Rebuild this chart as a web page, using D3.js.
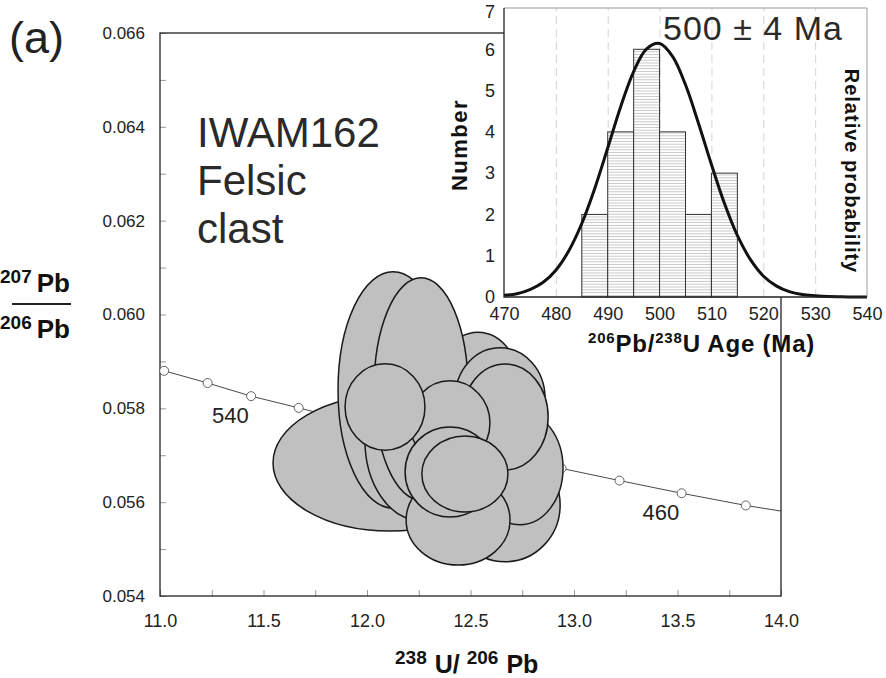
<!DOCTYPE html>
<html>
<head>
<meta charset="utf-8">
<script src="https://cdn.jsdelivr.net/npm/d3@7"></script>
<style>
  body { margin: 0; background: #fff; }
  text { font-family: "Liberation Sans", Arial, sans-serif; }
</style>
</head>
<body>
<div id="chart"></div>
<script>
// --------------------------------------
//  Data
// --------------------------------------

// concordia points (age in Ma, 238U/206Pb, 207Pb/206Pb)
const concAges = [560, 550, 540, 530, 520, 510, 500, 490, 480, 470, 460, 450];
const concU = [11.02, 11.23, 11.44, 11.67, 11.90, 12.14, 12.39, 12.66, 12.94, 13.22, 13.52, 13.83];
const concPb = [0.05880, 0.05854, 0.05826, 0.05801, 0.05775, 0.05748, 0.05722, 0.05697, 0.05672, 0.05646, 0.05619, 0.05593];
const concEndU = [11.0, 14.0];
const concEndPb = [0.05882, 0.05581];
const concLabels = [{ age: 540, u: 11.34, pb: 0.05769 }, { age: 460, u: 13.42, pb: 0.05562 }];

// error ellipses, back to front
const ellU = [12.111, 12.126, 12.256, 12.536, 12.261, 12.643, 12.667, 12.739, 12.667, 12.440, 12.401, 12.087, 12.401, 12.473];
const ellPb = [0.056835, 0.058391, 0.057325, 0.058284, 0.058412, 0.058220, 0.055940, 0.056728, 0.057815, 0.055620, 0.057687, 0.058028, 0.056643, 0.056600];
const ellRu = [0.565, 0.266, 0.266, 0.217, 0.227, 0.217, 0.266, 0.208, 0.208, 0.251, 0.193, 0.193, 0.217, 0.208];
const ellRpb = [0.00145, 0.00252, 0.00171, 0.00134, 0.00237, 0.00107, 0.00121, 0.00121, 0.00113, 0.00096, 0.00090, 0.00092, 0.00096, 0.00081];

// histogram of 206Pb/238U ages
const binStart = [485, 490, 495, 500, 505, 510];
const binCount = [2, 4, 6, 4, 2, 3];
const binWidth = 5;

// relative probability curve
const curveAge = [470, 472.5, 475, 477.5, 480, 482.5, 485, 487.5, 490, 492.5, 495, 497.5, 500,
  502.5, 505, 507.5, 510, 512.5, 515, 517.5, 520, 522.5, 525, 527.5, 530, 532.5, 535, 537.5, 540];
const curveVal = [0.04, 0.08, 0.18, 0.35, 0.65, 1.12, 1.78, 2.63, 3.61, 4.61, 5.46, 6.01, 6.14,
  5.83, 5.14, 4.21, 3.21, 2.27, 1.49, 0.91, 0.51, 0.27, 0.13, 0.06, 0.03, 0.01, 0.004, 0.001, 0];

const xTicks = [11.0, 11.5, 12.0, 12.5, 13.0, 13.5, 14.0];
const yTicks = [0.054, 0.056, 0.058, 0.060, 0.062, 0.064, 0.066];
const histXTicks = [470, 480, 490, 500, 510, 520, 530, 540];
const histYTicks = [0, 1, 2, 3, 4, 5, 6, 7];

// --------------------------------------
//  Canvas
// --------------------------------------

const width = 886;
const height = 678;

const svg = d3
  .select("#chart")
  .append("svg")
  .attr("width", width)
  .attr("height", height)
  .attr("viewBox", [0, 0, width, height]);

// main plot box
const plot = { left: 160, right: 781, top: 33, bottom: 596 };

const x = d3.scaleLinear([11, 14], [plot.left, plot.right]);
const y = d3.scaleLinear([0.054, 0.066], [plot.bottom, plot.top]);

// --------------------------------------
//  Main axes
// --------------------------------------

const minorX = d3.range(11, 14.001, 0.25);
const minorY = d3.range(0.054, 0.06601, 0.001);

svg.append("g")
  .attr("transform", `translate(0,${plot.bottom})`)
  .call(d3.axisBottom(x).tickValues(minorX).tickSize(-6).tickFormat(""))
  .call(g => g.select(".domain").remove())
  .call(g => g.selectAll("line").attr("stroke", "#999"));

svg.append("g")
  .attr("transform", `translate(${plot.left},0)`)
  .call(d3.axisLeft(y).tickValues(minorY).tickSize(-6).tickFormat(""))
  .call(g => g.select(".domain").remove())
  .call(g => g.selectAll("line").attr("stroke", "#999"));

svg.append("g")
  .attr("transform", `translate(0,${plot.bottom})`)
  .call(d3.axisBottom(x).tickValues(xTicks).tickSize(0).tickPadding(18).tickFormat(d3.format(".1f")))
  .call(g => g.select(".domain").remove())
  .call(g => g.selectAll("text")
    .attr("font-size", 18)
    .attr("fill", "#222")
    .attr("font-family", "Liberation Sans, Arial, sans-serif"));

svg.append("g")
  .attr("transform", `translate(${plot.left},0)`)
  .call(d3.axisLeft(y).tickValues(yTicks).tickSize(0).tickPadding(15).tickFormat(d3.format(".3f")))
  .call(g => g.select(".domain").remove())
  .call(g => g.selectAll("text")
    .attr("font-size", 17)
    .attr("fill", "#222")
    .attr("font-family", "Liberation Sans, Arial, sans-serif"));

svg.append("rect")
  .attr("x", plot.left)
  .attr("y", plot.top)
  .attr("width", plot.right - plot.left)
  .attr("height", plot.bottom - plot.top)
  .attr("fill", "none")
  .attr("stroke", "#222")
  .attr("stroke-width", 1.3);

// --------------------------------------
//  Concordia
// --------------------------------------

const concPts = concU.map((u, i) => [u, concPb[i]]);
const concLine = [[concEndU[0], concEndPb[0]], ...concPts, [concEndU[1], concEndPb[1]]];

svg.append("path")
  .datum(concLine)
  .attr("d", d3.line().x(d => x(d[0])).y(d => y(d[1])))
  .attr("fill", "none")
  .attr("stroke", "#333")
  .attr("stroke-width", 0.9);

svg.selectAll("circle.conc")
  .data(concPts)
  .join("circle")
  .attr("class", "conc")
  .attr("cx", d => x(d[0]))
  .attr("cy", d => y(d[1]))
  .attr("r", 4.5)
  .attr("fill", "#fff")
  .attr("stroke", "#555")
  .attr("stroke-width", 0.9);

svg.selectAll("text.conclabel")
  .data(concLabels)
  .join("text")
  .attr("class", "conclabel")
  .attr("x", d => x(d.u))
  .attr("y", d => y(d.pb))
  .attr("text-anchor", "middle")
  .attr("font-size", 22)
  .attr("fill", "#222")
  .text(d => d.age);

// --------------------------------------
//  Error ellipses
// --------------------------------------

const ellipses = ellU.map((u, i) => ({ u, pb: ellPb[i], ru: ellRu[i], rpb: ellRpb[i] }));

svg.selectAll("ellipse.err")
  .data(ellipses)
  .join("ellipse")
  .attr("class", "err")
  .attr("cx", d => x(d.u))
  .attr("cy", d => y(d.pb))
  .attr("rx", d => x(d.u + d.ru) - x(d.u))
  .attr("ry", d => y(d.pb) - y(d.pb + d.rpb))
  .attr("fill", "#c0c0c0")
  .attr("stroke", "#1a1a1a")
  .attr("stroke-width", 1.5);

// --------------------------------------
//  Labels
// --------------------------------------

svg.append("text")
  .attr("x", 9)
  .attr("y", 53)
  .attr("font-size", 45)
  .attr("fill", "#222")
  .text("(a)");

svg.selectAll("text.sample")
  .data(["IWAM162", "Felsic", "clast"])
  .join("text")
  .attr("class", "sample")
  .attr("x", 197)
  .attr("y", (d, i) => 147 + i * 48)
  .attr("font-size", 42)
  .attr("fill", "#2a2a2a")
  .text(d => d);

// x title: 238U/ 206Pb
const xt = svg.append("text")
  .attr("x", 395)
  .attr("y", 673)
  .attr("font-weight", "bold")
  .attr("font-size", 25)
  .attr("fill", "#111");
xt.append("tspan").attr("font-size", 19).attr("dy", -9).text("238");
xt.append("tspan").attr("dy", 9).attr("dx", 8).text("U/");
xt.append("tspan").attr("font-size", 19).attr("dy", -9).attr("dx", 7).text("206");
xt.append("tspan").attr("dy", 9).attr("dx", 8).text("Pb");

// y title: 207Pb over 206Pb
[{ sup: "207", base: 292 }, { sup: "206", base: 338 }].forEach(p => {
  const t = svg.append("text")
    .attr("x", 0)
    .attr("y", p.base)
    .attr("font-weight", "bold")
    .attr("font-size", 26)
    .attr("fill", "#111");
  t.append("tspan").attr("font-size", 19).attr("dy", -9).text(p.sup);
  t.append("tspan").attr("dy", 9).attr("dx", 5).text("Pb");
});

svg.append("line")
  .attr("x1", 12).attr("x2", 71)
  .attr("y1", 304).attr("y2", 304)
  .attr("stroke", "#222")
  .attr("stroke-width", 2);

// --------------------------------------
//  Inset histogram
// --------------------------------------

const inset = { left: 504, right: 867, top: 8, bottom: 297 };
const xi = d3.scaleLinear([470, 540], [inset.left, inset.right]);
const yi = d3.scaleLinear([0, 7], [inset.bottom, inset.top]);

svg.append("rect")
  .attr("x", inset.left)
  .attr("y", 0)
  .attr("width", width - inset.left)
  .attr("height", inset.bottom)
  .attr("fill", "#fff");

const defs = svg.append("defs");
const pat = defs.append("pattern")
  .attr("id", "hatch")
  .attr("patternUnits", "userSpaceOnUse")
  .attr("width", 6)
  .attr("height", 2.8);
pat.append("rect").attr("width", 6).attr("height", 2.8).attr("fill", "#fff");
pat.append("line")
  .attr("x1", 0).attr("x2", 6)
  .attr("y1", 1.4).attr("y2", 1.4)
  .attr("stroke", "#b8b8b8")
  .attr("stroke-width", 0.8);

// dashed grid
svg.append("g")
  .attr("transform", `translate(0,${inset.bottom})`)
  .call(d3.axisBottom(xi).tickValues(histXTicks.slice(1, -1)).tickSize(-(inset.bottom - inset.top)).tickFormat(""))
  .call(g => g.select(".domain").remove())
  .call(g => g.selectAll("line")
    .attr("stroke", "#d4d4d4")
    .attr("stroke-dasharray", "8,5"));

const bins = binStart.map((b, i) => ({ x0: b, x1: b + binWidth, n: binCount[i] }));

svg.selectAll("rect.bin")
  .data(bins)
  .join("rect")
  .attr("class", "bin")
  .attr("x", d => xi(d.x0))
  .attr("y", d => yi(d.n))
  .attr("width", d => xi(d.x1) - xi(d.x0))
  .attr("height", d => yi(0) - yi(d.n))
  .attr("fill", "url(#hatch)")
  .attr("stroke", "#333")
  .attr("stroke-width", 1);

svg.append("path")
  .datum(curveAge.map((a, i) => [a, curveVal[i]]))
  .attr("d", d3.line().x(d => xi(d[0])).y(d => yi(d[1])).curve(d3.curveCatmullRom))
  .attr("fill", "none")
  .attr("stroke", "#111")
  .attr("stroke-width", 3);

// frame: light top/right, dark axes
svg.append("path")
  .attr("d", `M${inset.left},${inset.top}H${inset.right}V${inset.bottom}`)
  .attr("fill", "none")
  .attr("stroke", "#999")
  .attr("stroke-width", 1);

svg.append("path")
  .attr("d", `M${inset.left},${inset.top}V${inset.bottom}H${inset.right}`)
  .attr("fill", "none")
  .attr("stroke", "#222")
  .attr("stroke-width", 1.3);

svg.append("g")
  .attr("transform", `translate(0,${inset.bottom})`)
  .call(d3.axisBottom(xi).tickValues(histXTicks).tickSize(0).tickPadding(10).tickFormat(d3.format("d")))
  .call(g => g.select(".domain").remove())
  .call(g => g.selectAll("text")
    .attr("font-size", 18)
    .attr("fill", "#222")
    .attr("font-family", "Liberation Sans, Arial, sans-serif"));

svg.append("g")
  .attr("transform", `translate(${inset.left},0)`)
  .call(d3.axisLeft(yi).tickValues(histYTicks).tickSize(0).tickPadding(9).tickFormat(d3.format("d")))
  .call(g => g.select(".domain").remove())
  .call(g => g.selectAll("text")
    .attr("font-size", 18)
    .attr("fill", "#222")
    .attr("font-family", "Liberation Sans, Arial, sans-serif"))
  .call(g => g.selectAll(".tick").filter(d => d === 7).select("text").attr("dy", "0.5em"));

svg.append("text")
  .attr("x", 663)
  .attr("y", 40)
  .attr("font-size", 34)
  .attr("letter-spacing", 1)
  .attr("fill", "#2a2a2a")
  .text("500 ± 4 Ma");

svg.append("text")
  .attr("transform", "translate(467,145) rotate(-90)")
  .attr("text-anchor", "middle")
  .attr("font-weight", "bold")
  .attr("font-size", 22)
  .attr("letter-spacing", 1.5)
  .attr("fill", "#111")
  .text("Number");

svg.append("text")
  .attr("transform", "translate(845,171) rotate(90)")
  .attr("text-anchor", "middle")
  .attr("font-weight", "bold")
  .attr("font-size", 20)
  .attr("letter-spacing", 1)
  .attr("fill", "#111")
  .text("Relative probability");

// inset x title: 206Pb/238U Age (Ma)
const it = svg.append("text")
  .attr("x", 588)
  .attr("y", 352)
  .attr("font-weight", "bold")
  .attr("font-size", 24)
  .attr("letter-spacing", 0.8)
  .attr("fill", "#111");
it.append("tspan").attr("font-size", 15).attr("dy", -9).text("206");
it.append("tspan").attr("dy", 9).text("Pb/");
it.append("tspan").attr("font-size", 15).attr("dy", -9).text("238");
it.append("tspan").attr("dy", 9).text("U Age (Ma)");
</script>
</body>
</html>
